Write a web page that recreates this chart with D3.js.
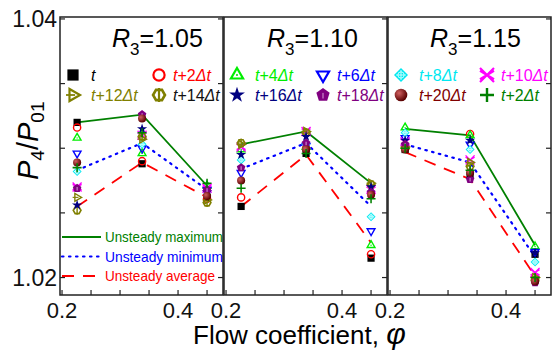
<!DOCTYPE html>
<html>
<head>
<meta charset="utf-8">
<script src="https://cdn.jsdelivr.net/npm/d3@7"></script>
<style>
body { margin: 0; background: #fff; }
text { font-family: Arial, "Liberation Sans", sans-serif; }
</style>
</head>
<body>
<svg id="chart"></svg>
<script>
var phi = [0.226, 0.338, 0.45];
var ratios = ["1.05", "1.10", "1.15"];
var steps = ["t", "t+2Δt", "t+4Δt", "t+6Δt", "t+8Δt", "t+10Δt", "t+12Δt", "t+14Δt", "t+16Δt", "t+18Δt", "t+20Δt", "t+2Δt"];
var xTicks = [0.2, 0.25, 0.3, 0.35, 0.4, 0.45];
var xTickLabels = [0.2, 0.4];
var yTicks = [1.02, 1.025, 1.03, 1.035, 1.04];
var yTickLabels = [1.02, 1.04];
var lineNames = ["Unsteady maximum", "Unsteady minimum", "Unsteady average"];

// which steps each panel lists in its legend
var legendSteps = [[0, 1, 6, 7], [2, 3, 8, 9], [4, 5, 10, 11]];

// unsteady max / min / average per panel (phi order)
var maxR105 = [1.0320, 1.0326, 1.0271];
var minR105 = [1.0283, 1.0304, 1.0268];
var avgR105 = [1.0255, 1.0289, 1.0262];
var maxR110 = [1.0303, 1.0313, 1.0273];
var minR110 = [1.0284, 1.0304, 1.0255];
var avgR110 = [1.0255, 1.0295, 1.0227];
var maxR115 = [1.0315, 1.0310, 1.0225];
var minR115 = [1.0303, 1.0289, 1.0216];
var avgR115 = [1.0297, 1.0276, 1.0201];

// instantaneous values, one row per time step (same order as steps)
var ptsR105 = [
  [1.0320, 1.0288, 1.0262],
  [1.0316, 1.0290, 1.0261],
  [1.0308, 1.0296, 1.0271],
  [1.0296, 1.0300, 1.0268],
  [1.0282, 1.0303, 1.0266],
  [1.0270, 1.0310, 1.0269],
  [1.0262, 1.0307, 1.0260],
  [1.0252, 1.0309, 1.0258],
  [1.0256, 1.0315, 1.0266],
  [1.0269, 1.0326, 1.0268],
  [1.0289, 1.0323, 1.0263],
  [1.0285, 1.0312, 1.0273]
];
var ptsR110 = [
  [1.0255, 1.0296, 1.0215],
  [1.0262, 1.0300, 1.0218],
  [1.0299, 1.0301, 1.0225],
  [1.0281, 1.0302, 1.0236],
  [1.0291, 1.0303, 1.0247],
  [1.0301, 1.0313, 1.0268],
  [1.0303, 1.0313, 1.0273],
  [1.0304, 1.0312, 1.0272],
  [1.0295, 1.0309, 1.0270],
  [1.0285, 1.0304, 1.0266],
  [1.0275, 1.0299, 1.0264],
  [1.0269, 1.0296, 1.0261]
];
var ptsR115 = [
  [1.0299, 1.0279, 1.0218],
  [1.0300, 1.0311, 1.0200],
  [1.0316, 1.0310, 1.0224],
  [1.0308, 1.0303, 1.0220],
  [1.0312, 1.0299, 1.0212],
  [1.0305, 1.0291, 1.0204],
  [1.0301, 1.0289, 1.0200],
  [1.0300, 1.0286, 1.0198],
  [1.0306, 1.0306, 1.0219],
  [1.0303, 1.0276, 1.0196],
  [1.0299, 1.0281, 1.0197],
  [1.0300, 1.0283, 1.0200]
];

var panels = [
  { r: ratios[0], max: maxR105, min: minR105, avg: avgR105, pts: ptsR105 },
  { r: ratios[1], max: maxR110, min: minR110, avg: avgR110, pts: ptsR110 },
  { r: ratios[2], max: maxR115, min: minR115, avg: avgR115, pts: ptsR115 }
];

var colors = ["#000000", "#ff0000", "#00ee00", "#0000ff", "#00e8f0", "#ff00ff",
              "#808000", "#808000", "#000080", "#800080", "#800000", "#008000"];
var textColors = ["#000000", "#ff0000", "#00ee00", "#0000ff", "#00e8f0", "#ff00ff",
                  "#808000", "#111111", "#000080", "#800080", "#800000", "#008000"];
var lineColors = ["#008000", "#0000ff", "#ff0000"];
var lineDash = [null, "1.5,5.5", "12,9"];

var width = 553, height = 352;
var panelLeft = [60, 224, 388];
var panelW = 163;
var plotTop = 17, plotBottom = 295;
var titleX = [112, 267, 430];

var svg = d3.select('#chart')
            .attr('width', width)
            .attr('height', height);

var defs = svg.append('defs');
var grad = defs.append('radialGradient').attr('id', 'ball')
               .attr('cx', '35%').attr('cy', '35%').attr('r', '65%');
grad.append('stop').attr('offset', '0%').attr('stop-color', '#d06060');
grad.append('stop').attr('offset', '100%').attr('stop-color', '#5a0000');

var y = d3.scaleLinear().domain([1.01865, 1.04015]).range([plotBottom, plotTop]);

function polygon(n, r, rot) {
  var p = [];
  for (var k = 0; k < n; k++) {
    var a = rot + k * 2 * Math.PI / n;
    p.push([r * Math.cos(a), r * Math.sin(a)]);
  }
  return 'M' + p.join('L') + 'Z';
}

function marker(g, i, s) {
  var c = colors[i];
  var sw = s > 5 ? 2.2 : 1.4;
  if (i === 0) {
    g.append('rect').attr('x', -s * 0.8).attr('y', -s * 0.8)
     .attr('width', s * 1.6).attr('height', s * 1.6).attr('fill', c);
  } else if (i === 1) {
    g.append('circle').attr('r', s * 0.8).attr('fill', 'none')
     .attr('stroke', c).attr('stroke-width', sw);
  } else if (i === 2 || i === 3 || i === 6) {
    var rot = i === 2 ? -Math.PI / 2 : (i === 3 ? Math.PI / 2 : 0);
    g.append('path').attr('d', polygon(3, s, rot)).attr('fill', 'none')
     .attr('stroke', c).attr('stroke-width', sw).attr('stroke-linejoin', 'miter');
    if (i === 6) {
      g.append('line').attr('x1', -s).attr('x2', s * 0.3).attr('stroke', c).attr('stroke-width', sw * 0.8);
    } else if (i === 2) {
      g.append('circle').attr('r', s * 0.15).attr('fill', c);
    }
  } else if (i === 4) {
    g.append('path').attr('d', polygon(4, s, 0)).attr('fill', c);
    g.append('circle').attr('r', s * 0.45).attr('fill', 'none').attr('stroke', '#c8ffff').attr('stroke-width', 1);
    g.append('path').attr('d', 'M' + (-s * 0.7) + ',0H' + (s * 0.7) + 'M0,' + (-s * 0.7) + 'V' + (s * 0.7))
     .attr('stroke', '#c8ffff').attr('stroke-width', 1);
  } else if (i === 5) {
    g.append('path').attr('d', 'M' + (-s) + ',' + (-s) + 'L' + s + ',' + s + 'M' + (-s) + ',' + s + 'L' + s + ',' + (-s)
                       + 'M' + (-s) + ',' + (-s * 0.6) + 'L' + s + ',' + (s * 0.6) + 'M' + (-s) + ',' + (s * 0.6) + 'L' + s + ',' + (-s * 0.6))
     .attr('stroke', c).attr('stroke-width', sw).attr('fill', 'none');
  } else if (i === 7) {
    g.append('path').attr('d', polygon(6, s * 0.85, 0)).attr('fill', 'none')
     .attr('stroke', c).attr('stroke-width', sw * 1.2);
    g.append('line').attr('y1', -s).attr('y2', s).attr('stroke', c).attr('stroke-width', sw);
  } else if (i === 8) {
    g.append('path').attr('d', d3.symbol(d3.symbolStar, s * s * 1.6)()).attr('fill', c);
  } else if (i === 9) {
    g.append('path').attr('d', polygon(5, s, -Math.PI / 2)).attr('fill', c);
    g.append('line').attr('y1', -s * 0.3).attr('y2', s * 0.5).attr('stroke', '#d8a0d8').attr('stroke-width', 1);
  } else if (i === 10) {
    g.append('circle').attr('r', s * 0.9).attr('fill', 'url(#ball)');
  } else if (i === 11) {
    g.append('path').attr('d', 'M' + (-s) + ',0H' + s + 'M0,' + (-s) + 'V' + s)
     .attr('stroke', c).attr('stroke-width', sw * 1.1);
  }
}

function stepLabel(t, idx, x, yy) {
  var label = steps[idx];
  var txt = t.append('text').attr('x', x).attr('y', yy)
             .attr('font-size', 16).attr('fill', textColors[idx]);
  txt.append('tspan').attr('font-style', 'italic').text('t');
  if (label === 't') return;
  var num = label.slice(1, label.length - 2);
  txt.append('tspan').text(num);
  txt.append('tspan').attr('font-style', 'italic').text('Δt');
}

panels.forEach(function(p, pi) {
  var x0 = panelLeft[pi];
  var x = d3.scaleLinear().domain([0.1965, 0.4775]).range([x0, x0 + panelW]);
  var g = svg.append('g');

  // frame
  g.append('rect').attr('x', x0).attr('y', plotTop).attr('width', panelW).attr('height', plotBottom - plotTop)
   .attr('fill', 'none').attr('stroke', '#222').attr('stroke-width', 1.5);

  // bottom ticks (inward)
  g.selectAll('line.xt').data(xTicks).enter().append('line')
   .attr('x1', function(d) { return x(d); }).attr('x2', function(d) { return x(d); })
   .attr('y1', plotBottom).attr('y2', plotBottom - 5).attr('stroke', '#222').attr('stroke-width', 1.2);
  g.selectAll('text.xl').data(xTickLabels).enter().append('text')
   .attr('x', function(d) { return x(d); }).attr('y', 318)
   .attr('text-anchor', 'middle').attr('font-size', 22).attr('fill', '#111')
   .text(function(d) { return d3.format('.1f')(d); });

  // right side ticks (inward)
  g.selectAll('line.yr').data(yTicks).enter().append('line')
   .attr('x1', x0 + panelW).attr('x2', x0 + panelW - 5)
   .attr('y1', function(d) { return y(d); }).attr('y2', function(d) { return y(d); })
   .attr('stroke', '#222').attr('stroke-width', 1.2);
  if (pi === 0) {
    g.selectAll('line.yl').data(yTicks).enter().append('line')
     .attr('x1', x0).attr('x2', x0 + 5)
     .attr('y1', function(d) { return y(d); }).attr('y2', function(d) { return y(d); })
     .attr('stroke', '#222').attr('stroke-width', 1.2);
    g.selectAll('text.yl').data(yTickLabels).enter().append('text')
     .attr('x', 57).attr('y', function(d) { return y(d) + 8; })
     .attr('text-anchor', 'end').attr('font-size', 23).attr('fill', '#111')
     .text(function(d) { return d3.format('.2f')(d); });
  }

  // unsteady lines
  var line = d3.line().x(function(d, i) { return x(phi[i]); }).y(function(d) { return y(d); });
  [p.max, p.min, p.avg].forEach(function(arr, li) {
    g.append('path').attr('d', line(arr)).attr('fill', 'none')
     .attr('stroke', lineColors[li]).attr('stroke-width', li === 1 ? 2.2 : 1.8)
     .attr('stroke-dasharray', lineDash[li])
     .attr('stroke-linecap', li === 1 ? 'round' : 'butt');
  });

  // markers
  p.pts.forEach(function(row, si) {
    row.forEach(function(v, xi) {
      var mg = g.append('g').attr('transform', 'translate(' + x(phi[xi]) + ',' + y(v) + ')');
      marker(mg, si, 4.5);
    });
  });

  // title
  var tt = g.append('text').attr('x', titleX[pi]).attr('y', 47).attr('font-size', 25).attr('fill', '#000');
  tt.append('tspan').attr('font-style', 'italic').text('R');
  tt.append('tspan').attr('font-size', 17).attr('dy', 8).text('3');
  tt.append('tspan').attr('dy', -8).text('=' + p.r);

  // marker legend
  var mx = [x0 + 13, x0 + 99];
  var tx = [x0 + 31, x0 + 113];
  legendSteps[pi].forEach(function(si, k) {
    var col = k % 2, row = Math.floor(k / 2);
    var cy = 75 + row * 20;
    var lg = g.append('g').attr('transform', 'translate(' + mx[col] + ',' + cy + ')');
    marker(lg, si, 7);
    stepLabel(g, si, tx[col], cy + 5.5);
  });
});

// line legend in first panel
lineNames.forEach(function(name, li) {
  var ly = 237 + li * 19.5;
  svg.append('line').attr('x1', 62).attr('x2', 101).attr('y1', ly).attr('y2', ly)
     .attr('stroke', lineColors[li]).attr('stroke-width', li === 1 ? 2.2 : 1.8)
     .attr('stroke-dasharray', lineDash[li]).attr('stroke-linecap', li === 1 ? 'round' : 'butt');
  svg.append('text').attr('x', 105).attr('y', ly + 5).attr('font-size', 14.5)
     .attr('fill', lineColors[li]).attr('textLength', li === 2 ? 110 : 118).attr('lengthAdjust', 'spacingAndGlyphs')
     .text(name);
});

// axis titles
var yt = svg.append('text').attr('transform', 'translate(38,180) rotate(-90)')
            .attr('font-size', 29).attr('fill', '#000');
yt.append('tspan').attr('font-style', 'italic').text('P');
yt.append('tspan').attr('font-size', 19).attr('dy', 6).text('4');
yt.append('tspan').attr('dy', -6).text('/');
yt.append('tspan').attr('font-style', 'italic').text('P');
yt.append('tspan').attr('font-size', 19).attr('dy', 6).text('01');

var xt = svg.append('text').attr('x', 193).attr('y', 344).attr('font-size', 26).attr('fill', '#000');
xt.append('tspan').text('Flow coefficient, ');
xt.append('tspan').attr('font-style', 'italic').attr('font-size', 30).text('φ');
</script>
</body>
</html>
